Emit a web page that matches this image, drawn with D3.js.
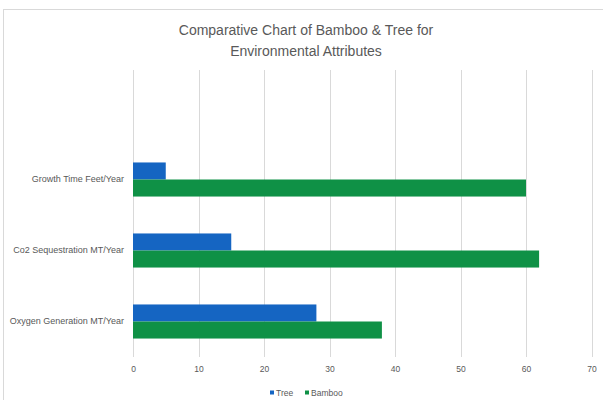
<!DOCTYPE html>
<html>
<head>
<meta charset="utf-8">
<script src="https://cdn.jsdelivr.net/npm/d3@7"></script>
<style>
  html, body { margin: 0; padding: 0; background: #fff; }
  svg { display: block; }
  text { font-family: "Liberation Sans", "DejaVu Sans", sans-serif; }
</style>
</head>
<body>
<svg id="chart" width="603" height="400"></svg>
<script>
// Environmental attributes compared for tree vs bamboo
const categories = ["Growth Time Feet/Year", "Co2 Sequestration MT/Year", "Oxygen Generation MT/Year"];
const seriesNames = ["Tree", "Bamboo"];
const treeValues = [5, 15, 28];
const bambooValues = [60, 62, 38];
const xTicks = [0, 10, 20, 30, 40, 50, 60, 70];
const titleLines = ["Comparative Chart of Bamboo & Tree for", "Environmental Attributes"];

const colors = { Tree: "#1565c2", Bamboo: "#0f9146" };

const svg = d3.select("#chart");
const W = 603, H = 400;

// outer frame of the chart area
svg.append("rect")
  .attr("x", 3.5).attr("y", 9.5)
  .attr("width", W + 20).attr("height", H + 20)
  .attr("fill", "#fff")
  .attr("stroke", "#d9d9d9")
  .attr("stroke-width", 1);

const plot = { left: 133, right: 591.5, top: 70, bottom: 357 };

const x = d3.scaleLinear().domain([0, 70]).range([plot.left, plot.right]);
const y = d3.scaleBand().domain(categories).range([144, plot.bottom])
  .paddingInner(0.52).paddingOuter(0.26);
const ySeries = d3.scaleBand().domain(seriesNames).range([0, y.bandwidth()]);

// vertical gridlines
svg.append("g")
  .selectAll("line")
  .data(xTicks)
  .join("line")
  .attr("x1", d => Math.round(x(d)) + 0.5)
  .attr("x2", d => Math.round(x(d)) + 0.5)
  .attr("y1", plot.top)
  .attr("y2", plot.bottom)
  .attr("stroke", "#d9d9d9")
  .attr("stroke-width", 1);

// bars
const rows = categories.map((c, i) => ({ cat: c, Tree: treeValues[i], Bamboo: bambooValues[i] }));
const groups = svg.append("g")
  .selectAll("g")
  .data(rows)
  .join("g")
  .attr("transform", d => `translate(0,${y(d.cat)})`);

groups.selectAll("rect")
  .data(d => seriesNames.map(s => ({ s, v: d[s] })))
  .join("rect")
  .attr("x", x(0))
  .attr("y", d => ySeries(d.s))
  .attr("width", d => x(d.v) - x(0))
  .attr("height", ySeries.bandwidth())
  .attr("fill", d => colors[d.s]);

// x axis labels
const xAxis = d3.axisBottom(x).tickValues(xTicks).tickSize(0).tickPadding(0);
const gx = svg.append("g")
  .attr("transform", `translate(0,${plot.bottom + 9})`)
  .call(xAxis);
gx.select(".domain").remove();
gx.selectAll("text")
  .attr("fill", "#595959")
  .style("font-size", "8.5px");

// category labels
const yAxis = d3.axisLeft(y).tickSize(0).tickPadding(9);
const gy = svg.append("g")
  .attr("transform", `translate(${plot.left},0)`)
  .call(yAxis);
gy.select(".domain").remove();
gy.selectAll("text")
  .attr("fill", "#595959")
  .style("font-size", "9px");

// title
svg.append("g")
  .selectAll("text")
  .data(titleLines)
  .join("text")
  .attr("x", 306)
  .attr("y", (d, i) => 35 + i * 21)
  .attr("text-anchor", "middle")
  .attr("fill", "#595959")
  .style("font-size", "14px")
  .text(d => d);

// legend
const legend = svg.append("g").attr("transform", "translate(270,393)");
const legendItems = legend.selectAll("g")
  .data(seriesNames)
  .join("g")
  .attr("transform", (d, i) => `translate(${i * 35},0)`);
legendItems.append("rect")
  .attr("x", 0).attr("y", -2.5)
  .attr("width", 4).attr("height", 4)
  .attr("fill", d => colors[d]);
legendItems.append("text")
  .attr("x", 6).attr("y", 2.8)
  .attr("fill", "#595959")
  .style("font-size", "8.5px")
  .text(d => d);
</script>
</body>
</html>
